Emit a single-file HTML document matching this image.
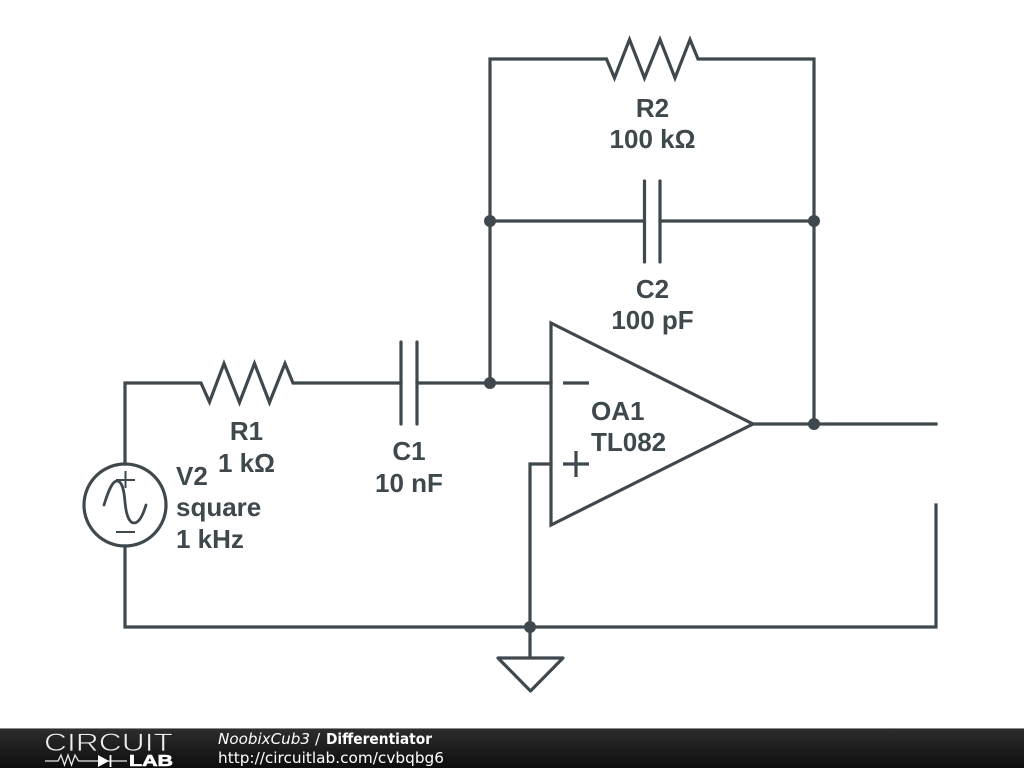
<!DOCTYPE html>
<html><head><meta charset="utf-8"><style>
html,body{margin:0;padding:0;background:#fff;width:1024px;height:768px;overflow:hidden}
svg{display:block}
.l{font-family:"Liberation Sans",sans-serif;font-weight:bold;font-size:26px;fill:#3f484d;stroke:none}
.f{font-family:"DejaVu Sans",sans-serif;font-size:15.3px;fill:#fff;stroke:none}
</style></head><body>
<svg width="1024" height="768" viewBox="0 0 1024 768" xmlns="http://www.w3.org/2000/svg">
<defs><linearGradient id="g" x1="0" y1="0" x2="0" y2="1"><stop offset="0" stop-color="#2e2e2e"/><stop offset="1" stop-color="#0d0d0d"/></linearGradient></defs>
<rect width="1024" height="768" fill="#fff"/>
<g fill="none" stroke="#3f484d" stroke-width="3.2" stroke-linejoin="miter" stroke-linecap="square">
<path d="M125 464V383H201L209.5 402L224 363.500L239.500 402.500L254.500 363.500L269.500 402.500L285 363.500L293 383H401"/>
<path d="M417 383H551"/>
<path d="M401 342V424M417 342V424" stroke-linecap="round"/>
<path d="M490 383V59H606.500L614.500 78L629.500 39.500L644.500 78L660 39.500L675 78L690 39.500L698 59H814V424"/>
<path d="M490 221H644M660 221H814"/>
<path d="M644.500 181V262M660 181V262" stroke-linecap="round"/>
<path d="M551 323L753 424L551 525Z"/>
<path d="M563 383H589M563 464H589M576 451V477" stroke-linecap="butt"/>
<path d="M753 424H936"/>
<path d="M551 464H530V627"/>
<path d="M936 505V627H125V546"/>
<circle cx="125" cy="505" r="41"/>
<path d="M116 480H135M125.500 471V488M116 532H135" stroke-width="2" stroke-linecap="butt"/>
<path d="M104 505C108 492 112 481 117 481C122 481 124 490 125 502C126 514 129 523 134 523C139 523 143 515 146 505" stroke-width="2.800" stroke-linecap="round"/>
<path d="M530 627V658M498 658H563L530.500 691Z" stroke-linejoin="round"/>
</g>
<g fill="#3f484d">
<circle cx="490" cy="221" r="6"/><circle cx="814" cy="221" r="6"/>
<circle cx="490" cy="383" r="6"/><circle cx="814" cy="424" r="6"/>
<circle cx="530" cy="627" r="6"/>
</g>
<text class="l" x="652.500" y="117" text-anchor="middle">R2</text>
<text class="l" x="652.500" y="148" text-anchor="middle">100 kΩ</text>
<text class="l" x="652.500" y="298" text-anchor="middle">C2</text>
<text class="l" x="652.500" y="329" text-anchor="middle">100 pF</text>
<text class="l" x="246.500" y="440" text-anchor="middle">R1</text>
<text class="l" x="246.500" y="472" text-anchor="middle">1 kΩ</text>
<text class="l" x="409" y="460" text-anchor="middle">C1</text>
<text class="l" x="409" y="492" text-anchor="middle">10 nF</text>
<text class="l" x="176" y="485">V2</text>
<text class="l" x="176" y="516">square</text>
<text class="l" x="176" y="548">1 kHz</text>
<text class="l" x="591" y="420">OA1</text>
<text class="l" x="591" y="451">TL082</text>
<rect x="0" y="728" width="1024" height="40" fill="url(#g)"/>
<rect x="0" y="728" width="1024" height="1" fill="#8a8a8a"/>
<text x="44" y="751" font-family="Liberation Sans,sans-serif" font-size="25" textLength="129" lengthAdjust="spacingAndGlyphs" fill="#f0f0f0" stroke="#222" stroke-width="0.7">CIRCUIT</text>
<text x="129" y="766" font-family="Liberation Sans,sans-serif" font-weight="bold" font-size="15.500" textLength="44" lengthAdjust="spacingAndGlyphs" fill="#fff" stroke="#fff" stroke-width="0.6">LAB</text>
<path d="M45 761H58L61 755L64.500 765L68 755L71.500 765L75 755L78.500 761H99M108 761H127" fill="none" stroke="#e8e8e8" stroke-width="1.300"/>
<path d="M98 755L109 761L98 767Z" fill="#fff"/>
<path d="M110.500 755V767" stroke="#fff" stroke-width="1.800"/>
<text class="f" x="218" y="744" font-style="italic" textLength="92" lengthAdjust="spacingAndGlyphs">NoobixCub3</text>
<text class="f" x="315" y="744">/</text>
<text class="f" x="326" y="744" font-weight="bold" textLength="106" lengthAdjust="spacingAndGlyphs">Differentiator</text>
<text class="f" x="218" y="763" textLength="226" lengthAdjust="spacingAndGlyphs">http://circuitlab.com/cvbqbg6</text>
</svg>
</body></html>
